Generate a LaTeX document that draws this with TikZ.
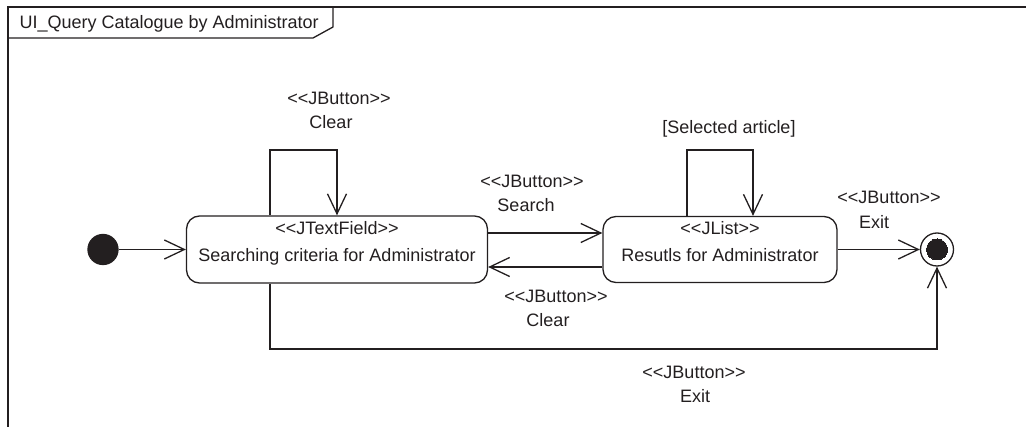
\documentclass[tikz,border=0pt]{standalone}
\usepackage{fontspec}
\setmainfont{Liberation Sans}
\usetikzlibrary{arrows.meta}
\definecolor{ink}{HTML}{231F20}
\begin{document}
\begin{tikzpicture}[x=1pt,y=-1pt,line width=1.3pt,draw=ink,
  every node/.style={font=\fontsize{18}{27}\selectfont,inner sep=0pt,text=ink},
  arr/.style={-{Straight Barb[length=20pt,width=19pt,line width=1.3pt]}},
  state/.style={draw,rounded corners=13pt,align=center,text depth=16pt},
  lbl/.style={anchor=base},
  dot/.style={circle,fill=ink,draw=ink}]
\useasboundingbox (0,0) rectangle (1026,427);

% frame with its name tab
\draw (1026,7) -- (8,7) -- (8,427);
\draw (8,38) -- (313,38) -- (333,27) -- (333,7);
\node[anchor=base west] (title) at (19,29) {UI\_Query Catalogue by Administrator};

% states
\node[dot,minimum size=30pt] (init) at (103,249.5) {};
\node[state,minimum width=301pt,minimum height=67pt] (s1) at (337,249.5)
  {<{}<JTextField>{}>\\Searching criteria for Administrator};
\node[state,minimum width=234pt,minimum height=66pt] (s2) at (720,249.5)
  {<{}<JList>{}>\\Resutls for Administrator};
\node[circle,draw,minimum size=33pt] (fin) at (937,249.5) {};
\node[dot,minimum size=21pt,line width=0pt] (finc) at (fin) {};

% bend points of the loops and the lower route
\coordinate (l1a) at (270,150);
\coordinate (l1b) at (337,150);
\coordinate (l2a) at (687,150);
\coordinate (l2b) at (753,150);
\coordinate (low) at (270,349);

% transitions
\draw[arr] (init) -- (s1);
\draw[arr] (s1.north -| l1a) -- (l1a) -- (l1b) -- (s1.north -| l1b);
\draw[arr] (s1.east |- 0,233) -- (s2.west |- 0,233);
\draw[arr] (s2.west |- 0,267) -- (s1.east |- 0,267);
\draw[arr] (s2.north -| l2a) -- (l2a) -- (l2b) -- (s2.north -| l2b);
\draw[arr] (s2) -- (fin);
\draw[arr] (s1.south -| low) -- (low) -| (fin.south);

% transition labels
\node[lbl] (c1a) at (339,104.5) {<{}<JButton>{}>};
\node[lbl] (c1b) at (331,128.5) {Clear};
\node[lbl] (sa) at (532,187.5) {<{}<JButton>{}>};
\node[lbl] (sb) at (526,211.5) {Search};
\node[lbl] (c2a) at (556,302.5) {<{}<JButton>{}>};
\node[lbl] (c2b) at (548,327) {Clear};
\node[lbl] (sel) at (729,133.5) {[Selected article]};
\node[lbl] (e1a) at (889,203.5) {<{}<JButton>{}>};
\node[lbl] (e1b) at (874,228.5) {Exit};
\node[lbl] (e2a) at (694,378.5) {<{}<JButton>{}>};
\node[lbl] (e2b) at (695,402.5) {Exit};
\end{tikzpicture}
\end{document}
